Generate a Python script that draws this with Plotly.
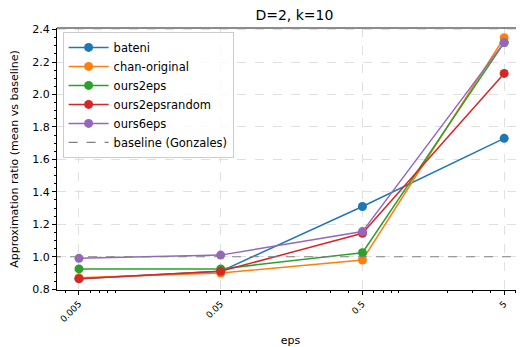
import plotly.graph_objects as go
import numpy as np

eps = [0.005, 0.05, 0.5, 5]
tick_labels = ["0.005", "0.05", "0.5", "5"]
series = {
    "bateni": [0.865, 0.91, 1.31, 1.73],
    "chan-original": [0.87, 0.90, 0.98, 2.35],
    "ours2eps": [0.925, 0.925, 1.025, 2.32],
    "ours2epsrandom": [0.865, 0.91, 1.145, 2.13],
    "ours6eps": [0.99, 1.01, 1.155, 2.32],
}
colors = ["#1f77b4", "#ff7f0e", "#2ca02c", "#d62728", "#9467bd"]
baseline = 1.0

minor_x = [k * 10.0 ** e for e in range(-3, 1) for k in range(2, 10)]

fig = go.Figure()
for (name, vals), c in zip(series.items(), colors):
    fig.add_trace(go.Scatter(x=eps, y=vals, name=name, mode="lines+markers",
                             line=dict(color=c, width=1.5),
                             marker=dict(color=c, size=9)))
fig.add_trace(go.Scatter(x=[1e-3, 10], y=[baseline, baseline], name="baseline (Gonzales)",
                         mode="lines", line=dict(color="gray", width=1.2, dash="dash")))

fig.add_shape(type="line", xref="paper", yref="paper", x0=0, x1=1, y0=1, y1=1,
              line=dict(color="#666666", width=1.5))

fig.update_layout(
    width=516, height=339,
    margin=dict(l=49, r=0, t=20, b=57),
    paper_bgcolor="white", plot_bgcolor="white",
    font=dict(family="DejaVu Sans", size=11, color="black"),
    title=dict(text="D=2, k=10", x=0.555, xanchor="center", y=0.98, yanchor="middle",
               font=dict(size=14)),
    legend=dict(x=0.012, y=0.985, xanchor="left", yanchor="top",
                bgcolor="rgba(255,255,255,0.8)", bordercolor="#cccccc", borderwidth=1,
                font=dict(size=11.5), tracegroupgap=0, itemwidth=40),
    showlegend=True,
)
fig.update_xaxes(type="log", range=[np.log10(0.005) - 0.155, np.log10(5) + 0.14],
                 tickvals=eps, ticktext=tick_labels, tickangle=-45,
                 tickfont=dict(size=9),
                 showgrid=True, gridcolor="#e0e0e0", griddash="dash", gridwidth=1,
                 showline=True, linecolor="black", linewidth=1.2, mirror=False,
                 ticks="outside", ticklen=4, tickcolor="black",
                 minor=dict(ticks="outside", ticklen=2, tickcolor="black", showgrid=False,
                            tickvals=minor_x),
                 title=dict(text="eps", font=dict(size=11), standoff=13), zeroline=False)
fig.update_yaxes(range=[0.795, 2.41], tickvals=[0.8, 1.0, 1.2, 1.4, 1.6, 1.8, 2.0, 2.2, 2.4],
                 ticktext=["0.8", "1.0", "1.2", "1.4", "1.6", "1.8", "2.0", "2.2", "2.4"],
                 tickfont=dict(size=11),
                 showgrid=True, gridcolor="#e0e0e0", griddash="dash", gridwidth=1,
                 showline=True, linecolor="black", linewidth=1.2, mirror=False,
                 ticks="outside", ticklen=4, tickcolor="black",
                 minor=dict(ticks="outside", ticklen=2, tickcolor="black", dtick=0.05, showgrid=False),
                 title=dict(text="Approximation ratio (mean vs baseline)", font=dict(size=11), standoff=12),
                 zeroline=False)

fig.write_html("out.html")
